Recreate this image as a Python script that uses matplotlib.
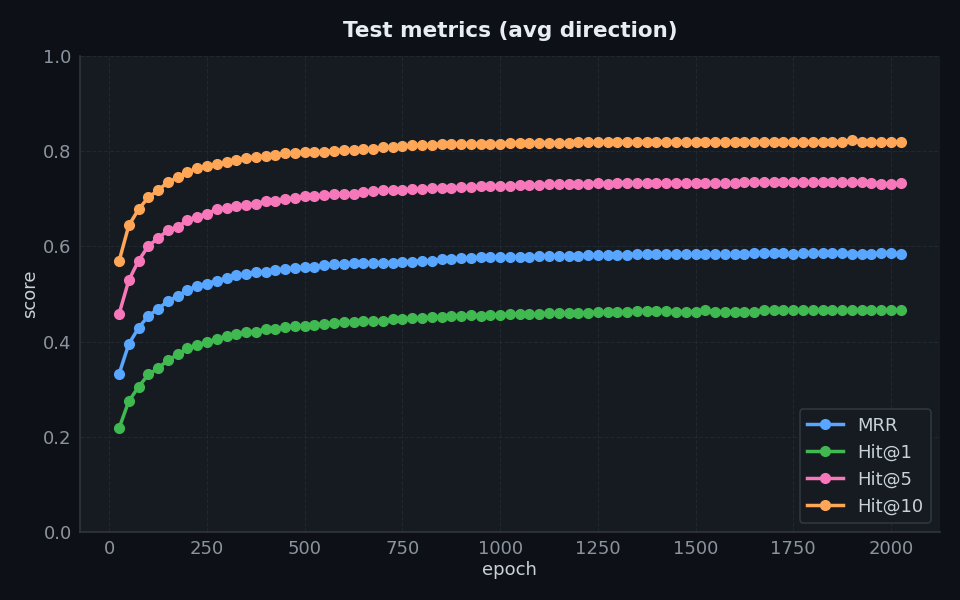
import matplotlib
matplotlib.use("Agg")
import matplotlib.pyplot as plt

epochs = list(range(25, 2026, 25))

mrr = [0.332, 0.395, 0.429, 0.454, 0.469, 0.485, 0.496, 0.508, 0.517, 0.522,
       0.528, 0.533, 0.539, 0.542, 0.546, 0.547, 0.550, 0.553, 0.554, 0.557,
       0.557, 0.560, 0.563, 0.563, 0.565, 0.565, 0.566,
       0.566, 0.566, 0.568, 0.568, 0.570, 0.570, 0.573, 0.573, 0.575, 0.575,
       0.577, 0.577, 0.578, 0.578, 0.578, 0.578, 0.580, 0.580, 0.580, 0.580,
       0.580, 0.582, 0.582, 0.582, 0.582, 0.582, 0.584, 0.584, 0.584, 0.584,
       0.583, 0.583, 0.583, 0.583, 0.583, 0.583, 0.583, 0.583,
       0.587, 0.587, 0.587, 0.587, 0.583, 0.587, 0.587, 0.587, 0.587, 0.587,
       0.585, 0.585, 0.583, 0.587, 0.587, 0.583]

hit1 = [0.218, 0.275, 0.305, 0.331, 0.344, 0.361, 0.373, 0.386, 0.393, 0.399,
        0.405, 0.412, 0.416, 0.420, 0.421, 0.426, 0.427, 0.430, 0.433, 0.433,
        0.435, 0.437, 0.439, 0.441, 0.441, 0.443, 0.443,
        0.444, 0.447, 0.447, 0.449, 0.449, 0.451, 0.451, 0.454, 0.454, 0.456,
        0.454, 0.456, 0.456, 0.458, 0.458, 0.458, 0.458, 0.460, 0.460, 0.460,
        0.460, 0.460, 0.462, 0.462, 0.462, 0.462, 0.464, 0.464, 0.464, 0.464,
        0.463, 0.463, 0.463, 0.466, 0.463, 0.463, 0.463, 0.463, 0.463,
        0.466, 0.466, 0.466, 0.466, 0.466, 0.466, 0.466, 0.466, 0.466, 0.466,
        0.466, 0.466, 0.466, 0.466, 0.466]

hit5 = [0.458, 0.529, 0.570, 0.601, 0.617, 0.634, 0.641, 0.655, 0.662, 0.669,
        0.678, 0.680, 0.685, 0.687, 0.690, 0.695, 0.695, 0.700, 0.701, 0.705,
        0.705, 0.707, 0.710, 0.711, 0.711, 0.714, 0.716,
        0.718, 0.718, 0.718, 0.720, 0.720, 0.722, 0.722, 0.722, 0.724, 0.724,
        0.726, 0.727, 0.727, 0.727, 0.729, 0.729, 0.729, 0.731, 0.731, 0.731,
        0.731, 0.731, 0.734, 0.731, 0.734, 0.734, 0.733, 0.734, 0.733, 0.734,
        0.7325, 0.7325, 0.7325, 0.7325, 0.7325, 0.7325, 0.7325,
        0.735, 0.735, 0.735, 0.735, 0.735, 0.735, 0.735, 0.735, 0.735, 0.735,
        0.735, 0.735, 0.735, 0.734, 0.731, 0.731, 0.7325]

hit10 = [0.569, 0.644, 0.678, 0.703, 0.718, 0.735, 0.745, 0.756, 0.764, 0.768,
         0.773, 0.777, 0.782, 0.786, 0.788, 0.789, 0.792, 0.796, 0.796, 0.798,
         0.798, 0.798, 0.801, 0.802, 0.802, 0.804, 0.804,
         0.808, 0.808, 0.811, 0.812, 0.812, 0.813, 0.815, 0.815, 0.815, 0.815,
         0.816, 0.816, 0.816, 0.818, 0.818, 0.818, 0.818, 0.818, 0.818, 0.818,
         0.820, 0.820, 0.820, 0.820, 0.820, 0.820, 0.820, 0.820, 0.820, 0.820,
         0.820, 0.820, 0.820, 0.820, 0.820, 0.820, 0.820, 0.820, 0.820,
         0.820, 0.820, 0.820, 0.820, 0.820, 0.820, 0.820, 0.820, 0.820,
         0.823, 0.820, 0.820, 0.820, 0.820, 0.820]

series = [("MRR", mrr, "#58a6ff"), ("Hit@1", hit1, "#3fb950"),
          ("Hit@5", hit5, "#f778ba"), ("Hit@10", hit10, "#ffa657")]

fig_bg = "#0d1117"
ax_bg = "#161b22"
fig = plt.figure(figsize=(9.6, 6.0), dpi=100, facecolor=fig_bg)
ax = fig.add_axes([0.0833, 0.1133, 0.8957, 0.7934])
ax.set_facecolor(ax_bg)

for name, vals, col in series:
    ax.plot(epochs, vals, marker="o", markersize=7, linewidth=2.5, color=col, label=name)

ax.set_ylim(0, 1.0)
ax.set_xlim(-75, 2125)
ax.set_xticks([0, 250, 500, 750, 1000, 1250, 1500, 1750, 2000])
ax.set_yticks([0.0, 0.2, 0.4, 0.6, 0.8, 1.0])
ax.grid(True, color="#30363d", linestyle="--", linewidth=0.8, alpha=0.45)
ax.set_axisbelow(True)

for s in ["top", "right"]:
    ax.spines[s].set_visible(False)
for s in ["left", "bottom"]:
    ax.spines[s].set_color("#30363d")
    ax.spines[s].set_linewidth(1.2)

ax.tick_params(colors="#8b949e", labelsize=13, length=0, pad=6)
ax.set_xlabel("epoch", color="#c9d1d9", fontsize=13, labelpad=2)
ax.set_ylabel("score", color="#c9d1d9", fontsize=13, labelpad=3)
ax.set_title("Test metrics (avg direction)", color="#e6edf3", fontsize=15.5,
             fontweight="bold", pad=14)

leg = ax.legend(loc="lower right", fontsize=13, facecolor=ax_bg,
                edgecolor="#30363d", labelcolor="#c9d1d9", framealpha=1.0)
leg.get_frame().set_linewidth(1.2)

fig.savefig("out.png", dpi=100, facecolor=fig_bg)
